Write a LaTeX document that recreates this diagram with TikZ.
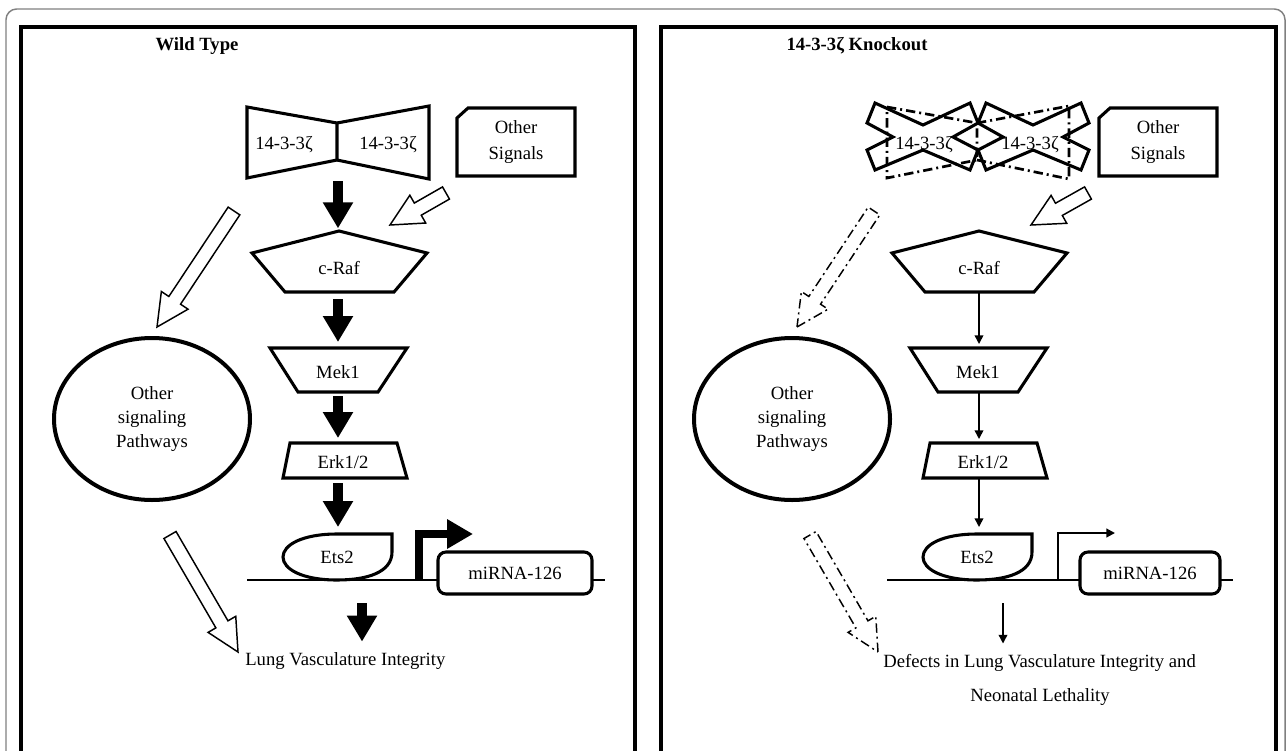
\documentclass[tikz,border=0pt]{standalone}
\usepackage{fontspec}
\setmainfont{Liberation Serif}
\usetikzlibrary{calc,arrows.meta,shapes.geometric}
\tikzset{
  panel/.style={draw, line width=3pt},
  outline/.style={draw, line width=2.3pt, line join=miter},
  lbl/.style={inner sep=0pt, align=center},
  fat/.style={line width=7.5pt, -{Triangle[width=21.5pt,length=19.5pt]}},
  thinarr/.style={line width=1.1pt, -{Triangle[width=6.5pt,length=6.5pt]}},
  hollow/.style={draw, line width=1.1pt, line join=miter, fill=white},
  dashdot/.style={dash pattern=on 7pt off 3pt on 1.5pt off 3pt},
}
\newcommand{\hollowarrow}[3][]{%
  \coordinate (hbase) at ($(#3)!24pt!(#2)$);
  \path[hollow,#1] (#3) -- ($(hbase)!12pt!90:(#3)$) -- ($(hbase)!5.25pt!90:(#3)$)
    -- ($(#2)!5.25pt!90:(#3)$) -- ($(#2)!5.25pt!-90:(#3)$)
    -- ($(hbase)!5.25pt!-90:(#3)$) -- ($(hbase)!12pt!-90:(#3)$) -- cycle;
}
\begin{document}
\begin{tikzpicture}[x=0.75pt,y=-0.75pt,font=\fontsize{14}{16.8}\selectfont]
\useasboundingbox (0,0) rectangle (1287,750);
\draw[gray, line width=1.1pt, rounded corners=8pt] (6,9) rectangle (1285,790);
\draw[panel] (20.5,27) rectangle (635,790);
\draw[panel] (661,27) rectangle (1276,790);

% ---------------- LEFT PANEL ----------------
\node[lbl, font=\bfseries\fontsize{14}{16.8}\selectfont] (tL) at (197,46) {Wild Type};

\draw[outline] (247,107) -- (337,123) -- (337,160) -- (247,178) -- cycle;
\draw[outline] (337,123) -- (429,106) -- (429,179) -- (337,160);
\node[lbl] (dimLa) at (284,145) {14-3-3ζ};
\node[lbl] (dimLb) at (388,145) {14-3-3ζ};

\draw[outline] (457,118) -- (468,108) -- (575,108) -- (575,176) -- (457,176) -- cycle;
\node[lbl, font=\fontsize{14}{19}\selectfont] (othL) at (516,142) {Other\\Signals};

\draw[outline] (339,231) -- (427,253) -- (394,292) -- (285,292) -- (252,253) -- cycle;
\node[lbl] (crafL) at (339,268) {c-Raf};
\draw[outline] (270,348) -- (407,348) -- (378,392) -- (298,392) -- cycle;
\node[lbl] (mekL) at (338,372) {Mek1};
\draw[outline] (290,443) -- (397,443) -- (407,478) -- (283,478) -- cycle;
\node[lbl] (erkL) at (343,462) {Erk1/2};

\coordinate (dimLs) at (338,179);
\coordinate (crafLn) at (338,231);
\coordinate (crafLs) at (338,292);
\coordinate (mekLn) at (338,348);
\coordinate (mekLs) at (338,392);
\coordinate (erkLn) at (338,443);
\coordinate (erkLs) at (338,478);
\coordinate (etsLn) at (338,534);
\coordinate (dnaL) at (362,580);

\draw[fat, shorten <=1.5pt, shorten >=2pt] (dimLs) -- (crafLn);
\draw[fat, shorten <=5.25pt, shorten >=4.5pt] (crafLs) -- (mekLn);
\draw[fat, shorten <=3pt, shorten >=3.75pt] (mekLs) -- (erkLn);
\draw[fat, shorten <=3.75pt, shorten >=5.25pt] (erkLs) -- (etsLn);

\draw[line width=2pt] (247,580) -- (605,580);
\draw[outline, fill=white] (392,534) -- (392,552) .. controls (392,572) and (368,580) .. (337,580)
  .. controls (302,580) and (283,569) .. (283,557) .. controls (283,545) and (302,534) .. (337,534) -- cycle;
\node[lbl] (etsL) at (337,557) {Ets2};
\coordinate (promL) at (419,580);
\coordinate (promLt) at (473,534);
\draw[line width=6pt, line join=miter, -{Triangle[width=21pt,length=19.5pt]}] (promL) |- (promLt);
\node[draw, line width=2.3pt, rounded corners=6pt, fill=white, minimum width=115.5pt, minimum height=31.5pt, inner sep=0pt] (mirL) at (515,573) {miRNA-126};

\node[lbl, anchor=west] (lungL) at (245,661) {Lung Vasculature Integrity};
\draw[fat, shorten <=17.25pt, shorten >=8pt] (dnaL) -- (dnaL |- lungL.north);

\node[draw, ellipse, line width=3pt, minimum width=147pt, minimum height=121.5pt, align=center, inner sep=0pt, font=\fontsize{14}{18}\selectfont] (ellL) at (152,419) {Other\\signaling\\Pathways};

\coordinate (hLa1) at (234,211); \coordinate (hLb1) at (157,327);
\coordinate (hLa2) at (446,193); \coordinate (hLb2) at (390,225);
\coordinate (hLa3) at (170,535); \coordinate (hLb3) at (238,652);
\hollowarrow{hLa1}{hLb1}
\hollowarrow{hLa2}{hLb2}
\hollowarrow{hLa3}{hLb3}

% ---------------- RIGHT PANEL ----------------
\node[lbl, font=\bfseries\fontsize{14}{16.8}\selectfont] (tR) at (857,46) {14-3-3ζ Knockout};

\draw[line width=2pt, dashdot] (887,107) -- (977,123) -- (977,160) -- (887,178) -- cycle;
\draw[line width=2pt, dashdot] (977,123) -- (1069,106) -- (1069,179) -- (977,160);
\draw[outline] (875,103) -- (923,125) -- (970,103) -- (978,123) -- (953,137) -- (978,150) -- (970,170) -- (923,150) -- (875,170) -- (867,150) -- (893,137) -- (867,123) -- cycle;
\draw[outline] (1081,103) -- (1033,125) -- (986,103) -- (978,123) -- (1003,137) -- (978,150) -- (986,170) -- (1033,150) -- (1081,170) -- (1089,150) -- (1063,137) -- (1089,123) -- cycle;
\node[lbl] (dimRa) at (924,145) {14-3-3ζ};
\node[lbl] (dimRb) at (1030,145) {14-3-3ζ};

\draw[outline] (1099,118) -- (1110,108) -- (1217,108) -- (1217,176) -- (1099,176) -- cycle;
\node[lbl, font=\fontsize{14}{19}\selectfont] (othR) at (1158,142) {Other\\Signals};

\draw[outline] (979,231) -- (1067,253) -- (1034,292) -- (925,292) -- (892,253) -- cycle;
\node[lbl] (crafR) at (979,268) {c-Raf};
\draw[outline] (910,348) -- (1047,348) -- (1018,392) -- (938,392) -- cycle;
\node[lbl] (mekR) at (978,372) {Mek1};
\draw[outline] (930,443) -- (1037,443) -- (1047,478) -- (923,478) -- cycle;
\node[lbl] (erkR) at (983,462) {Erk1/2};

\coordinate (crafRs) at (979,292);
\coordinate (mekRn) at (979,348);
\coordinate (mekRs) at (979,392);
\coordinate (erkRn) at (979,443);
\coordinate (erkRs) at (979,478);
\coordinate (etsRn) at (979,534);
\coordinate (dnaR) at (1003,580);

\draw[thinarr, shorten >=3pt] (crafRs) -- (mekRn);
\draw[thinarr, shorten >=3pt] (mekRs) -- (erkRn);
\draw[thinarr, shorten >=5.25pt] (erkRs) -- (etsRn);

\draw[line width=2pt] (887,580) -- (1233,580);
\draw[outline, fill=white] (1032,534) -- (1032,552) .. controls (1032,572) and (1008,580) .. (977,580)
  .. controls (942,580) and (923,569) .. (923,557) .. controls (923,545) and (942,534) .. (977,534) -- cycle;
\node[lbl] (etsR) at (977,557) {Ets2};
\coordinate (promR) at (1058,580);
\coordinate (promRt) at (1115,533);
\draw[thinarr, line width=1.5pt] (promR) |- (promRt);
\node[draw, line width=2.3pt, rounded corners=6pt, fill=white, minimum width=105pt, minimum height=31.5pt, inner sep=0pt] (mirR) at (1150,573) {miRNA-126};

\node[lbl, anchor=west] (defR) at (883,663) {Defects in Lung Vasculature Integrity and};
\node[lbl] (neoR) at (1040,697) {Neonatal Lethality};
\draw[thinarr, shorten <=17.25pt, shorten >=8pt] (dnaR) -- (dnaR |- defR.north);

\node[draw, ellipse, line width=3pt, minimum width=147pt, minimum height=121.5pt, align=center, inner sep=0pt, font=\fontsize{14}{18}\selectfont] (ellR) at (792,419) {Other\\signaling\\Pathways};

\coordinate (hRa1) at (874,211); \coordinate (hRb1) at (797,327);
\coordinate (hRa2) at (1088,193); \coordinate (hRb2) at (1031,225);
\coordinate (hRa3) at (810,535); \coordinate (hRb3) at (878,652);
\hollowarrow[dashdot]{hRa1}{hRb1}
\hollowarrow{hRa2}{hRb2}
\hollowarrow[dashdot]{hRa3}{hRb3}
\end{tikzpicture}
\end{document}
